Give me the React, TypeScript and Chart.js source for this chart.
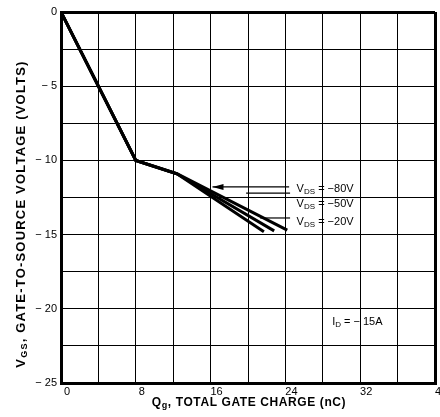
import React, { useEffect, useRef } from 'react';
import { Chart, registerables } from 'chart.js';

Chart.register(...registerables);

// Series: Qg (nC) vs VGS (V) for three drain-source voltages
const seriesLabels = ['−80V', '−50V', '−20V'];
const qg80 = [0, 8, 12.4, 24.2];
const vgs80 = [0, -10, -10.9, -14.7];
const qg50 = [0, 8, 12.4, 22.8];
const vgs50 = [0, -10, -10.9, -14.75];
const qg20 = [0, 8, 12.4, 21.7];
const vgs20 = [0, -10, -10.9, -14.8];

// Axis ranges / ticks
const xMin = 0;
const xMax = 40;
const xStep = 4;
const xLabelEvery = 8;
const yMin = -25;
const yMax = 0;
const yStep = 2.5;
const yLabelEvery = 5;

// Annotation anchors (data coordinates)
const leaderStartQ = [16.2, 19.8, 21.3];
const leaderEndQ = [24.4, 24.5, 24.5];
const leaderV = [-11.79, -12.2, -13.88];
const labelQ = [25.2, 25.2, 25.2];
const labelV = [-11.9, -12.95, -14.15];
const idLabel = 'I';
const idSub = 'D';
const idValue = ' = − 15A';
const idQ = 29.0;
const idV = -20.9;

const FONT = '"Liberation Sans", Arial, Helvetica, sans-serif';

function drawSub(ctx: any, main: string, sub: string, rest: string, x: number, y: number, size: number, bold: boolean, align: 'left' | 'center', spacing = 0) {
  const w = bold ? 'bold ' : '';
  ctx.letterSpacing = spacing + 'px';
  ctx.font = `${w}${size}px ${FONT}`;
  const w1 = ctx.measureText(main).width;
  const w3 = ctx.measureText(rest).width;
  ctx.font = `${w}${Math.round(size * 0.72)}px ${FONT}`;
  const w2 = ctx.measureText(sub).width;
  const total = w1 + w2 + w3;
  let sx = align === 'center' ? x - total / 2 : x;
  ctx.textAlign = 'left';
  ctx.textBaseline = 'middle';
  ctx.font = `${w}${size}px ${FONT}`;
  ctx.fillText(main, sx, y);
  sx += w1;
  ctx.font = `${w}${Math.round(size * 0.72)}px ${FONT}`;
  ctx.fillText(sub, sx, y + size * 0.25);
  sx += w2;
  ctx.font = `${w}${size}px ${FONT}`;
  ctx.fillText(rest, sx, y);
  ctx.letterSpacing = '0px';
}

const notesPlugin = {
  id: 'notes',
  afterDraw(chart: any) {
    const { ctx, scales, chartArea } = chart;
    const x = scales.x;
    const y = scales.y;
    ctx.save();
    ctx.strokeStyle = '#000';
    ctx.fillStyle = '#000';
    ctx.lineWidth = 1.2;
    for (let i = 0; i < leaderV.length; i++) {
      const py = y.getPixelForValue(leaderV[i]);
      ctx.beginPath();
      ctx.moveTo(x.getPixelForValue(leaderStartQ[i]), py);
      ctx.lineTo(x.getPixelForValue(leaderEndQ[i]), py);
      ctx.stroke();
    }
    // arrowhead on first leader
    {
      const tx = x.getPixelForValue(leaderStartQ[0]);
      const ty = y.getPixelForValue(leaderV[0]);
      ctx.beginPath();
      ctx.moveTo(tx, ty);
      ctx.lineTo(tx + 11, ty - 3);
      ctx.lineTo(tx + 11, ty + 3);
      ctx.closePath();
      ctx.fill();
    }
    for (let i = 0; i < seriesLabels.length; i++) {
      const lx = x.getPixelForValue(labelQ[i]);
      const ly = y.getPixelForValue(labelV[i]);
      drawSub(ctx, 'V', 'DS', ' = ' + seriesLabels[i], lx, ly, 11, false, 'left');
    }
    drawSub(ctx, idLabel, idSub, idValue, x.getPixelForValue(idQ), y.getPixelForValue(idV), 11, false, 'left');

    // axis titles
    const cx = (chartArea.left + chartArea.right) / 2;
    drawSub(ctx, 'Q', 'g', ', TOTAL GATE CHARGE (nC)', cx + 1, 403, 12, true, 'center', 0.6);
    ctx.translate(21, 214);
    ctx.rotate(-Math.PI / 2);
    drawSub(ctx, 'V', 'GS', ', GATE-TO-SOURCE VOLTAGE (VOLTS)', 0, 0, 13, true, 'center', 1.2);
    ctx.restore();
  },
};

function toPoints(xs: number[], ys: number[]) {
  return xs.map((v, i) => ({ x: v, y: ys[i] }));
}

export default function App() {
  const ref = useRef<HTMLCanvasElement | null>(null);
  useEffect(() => {
    if (!ref.current) return;
    const line = (label: string, xs: number[], ys: number[]) => ({
      label,
      data: toPoints(xs, ys),
      showLine: true,
      borderColor: '#000',
      backgroundColor: '#000',
      borderWidth: 3,
      pointRadius: 0,
      tension: 0,
      borderJoinStyle: 'miter' as const,
    });
    const gridW = (edgeA: number, edgeB: number) => (c: any) =>
      c.tick && (Math.abs(c.tick.value - edgeA) < 1e-6 || Math.abs(c.tick.value - edgeB) < 1e-6) ? 3 : 1;
    const chart = new Chart(ref.current, {
      type: 'scatter',
      data: {
        datasets: [
          line('VDS = ' + seriesLabels[0], qg80, vgs80),
          line('VDS = ' + seriesLabels[1], qg50, vgs50),
          line('VDS = ' + seriesLabels[2], qg20, vgs20),
        ],
      },
      options: {
        animation: false,
        responsive: false,
        layout: { padding: { top: 12, right: 5, left: 0, bottom: 0 } },
        plugins: { legend: { display: false }, tooltip: { enabled: false } },
        scales: {
          x: {
            type: 'linear',
            min: xMin,
            max: xMax,
            afterFit: (s: any) => {
              s.height = 34;
              s.paddingLeft = 0;
              s.paddingRight = 0;
            },
            ticks: {
              stepSize: xStep,
              color: '#000',
              font: { family: FONT, size: 11 },
              padding: 2,
              labelOffset: 6,
              maxRotation: 0,
              autoSkip: false,
              callback: (v: any) => (Number(v) % xLabelEvery === 0 ? String(v) : ''),
            },
            grid: { color: '#000', lineWidth: gridW(xMin, xMax), drawTicks: false },
            border: { display: true, color: '#000', width: 3 },
          },
          y: {
            type: 'linear',
            min: yMin,
            max: yMax,
            afterFit: (s: any) => {
              s.width = 61;
              s.paddingTop = 0;
              s.paddingBottom = 0;
            },
            ticks: {
              stepSize: yStep,
              color: '#000',
              font: { family: FONT, size: 11 },
              padding: 4,
              autoSkip: false,
              callback: (v: any) => {
                const n = Number(v);
                if (Math.abs(n % yLabelEvery) > 1e-6) return '';
                return n === 0 ? '0' : '\u2212 ' + Math.abs(n);
              },
            },
            grid: { color: '#000', lineWidth: gridW(yMin, yMax), drawTicks: false },
            border: { display: true, color: '#000', width: 3 },
          },
        },
      },
      plugins: [notesPlugin],
    });
    return () => chart.destroy();
  }, []);
  return (
    <div style={{ position: 'fixed', left: 0, top: 0, width: 440, height: 417, background: '#fff' }}>
      <canvas ref={ref} width={440} height={417} style={{ display: 'block' }} />
    </div>
  );
}
